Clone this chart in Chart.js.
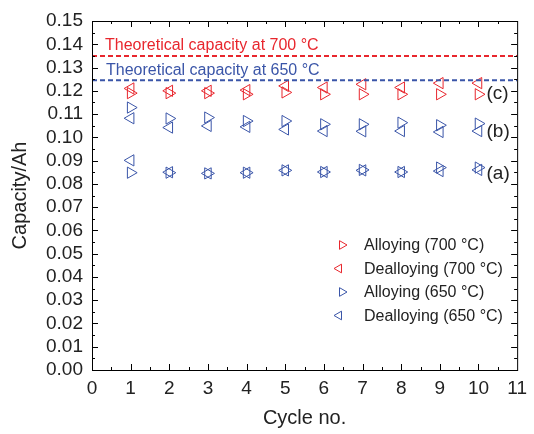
<!DOCTYPE html>
<html>
<head>
<meta charset="utf-8">
<script src="https://cdn.jsdelivr.net/npm/chart.js@4/dist/chart.umd.min.js"></script>
<style>
  html, body { margin: 0; padding: 0; background: #fff; }
  #wrap { width: 534px; height: 434px; }
</style>
</head>
<body>
<div id="wrap"><canvas id="chart" width="534" height="434"></canvas></div>
<script>
const cycles = [1, 2, 3, 4, 5, 6, 7, 8, 9, 10];
const alloying700 = [0.1190, 0.1190, 0.1190, 0.1185, 0.1193, 0.1185, 0.1185, 0.1185, 0.1185, 0.1185];
const dealloying700 = [0.1210, 0.1200, 0.1200, 0.1203, 0.1221, 0.1214, 0.1228, 0.1214, 0.1233, 0.1233];
const alloying650b = [0.1128, 0.1081, 0.1085, 0.1070, 0.1070, 0.1056, 0.1056, 0.1063, 0.1052, 0.1059];
const dealloying650b = [0.1082, 0.1042, 0.1049, 0.1045, 0.1034, 0.1027, 0.1026, 0.1027, 0.1023, 0.1027];
const alloying650a = [0.0848, 0.0848, 0.0845, 0.0848, 0.0858, 0.0851, 0.0860, 0.0851, 0.0870, 0.0870];
const dealloying650a = [0.0901, 0.0850, 0.0845, 0.0848, 0.0858, 0.0851, 0.0858, 0.0851, 0.0855, 0.0860];
const theoretical700 = 0.135;
const theoretical650 = 0.1245;
const xRange = [0, 11];

const RED = '#e8262d';
const BLUE = '#3a55a8';
const FONT = 'Liberation Sans, Arial, Helvetica, sans-serif';

function points(ys) {
  return cycles.map((c, i) => ({ x: c, y: ys[i] }));
}

function markers(label, ys, color, rotation, inLegend) {
  return {
    label, data: points(ys), showLine: false,
    pointStyle: 'triangle', rotation, pointRadius: 6.5,
    borderColor: color, backgroundColor: 'rgba(0,0,0,0)', pointBorderWidth: 1,
    inLegend
  };
}

function refLine(value, color) {
  return {
    label: 'ref', data: xRange.map(x => ({ x, y: value })), showLine: true,
    borderColor: color, borderWidth: 2, borderDash: [5, 3], pointRadius: 0, inLegend: false
  };
}

const datasets = [
  refLine(theoretical700, RED),
  refLine(theoretical650, BLUE),
  markers('Alloying (700 °C)', alloying700, RED, 90, true),
  markers('Dealloying (700 °C)', dealloying700, RED, -90, true),
  markers('Alloying (650 °C)', alloying650b, BLUE, 90, true),
  markers('Dealloying (650 °C)', dealloying650b, BLUE, -90, true),
  markers('Alloying (650 °C)', alloying650a, BLUE, 90, false),
  markers('Dealloying (650 °C)', dealloying650a, BLUE, -90, false)
];

// frame, inward ticks, notes and the legend
const extras = {
  id: 'extras',
  afterDraw(chart) {
    const { ctx, chartArea: a, scales: { x, y } } = chart;
    ctx.save();
    ctx.strokeStyle = '#000';
    ctx.lineWidth = 1;
    ctx.strokeRect(a.left + 0.5, a.top + 0.5, a.right - a.left, a.bottom - a.top);
    ctx.beginPath();
    for (let v = 0.5; v < 11; v += 0.5) {
      const px = Math.round(x.getPixelForValue(v)) + 0.5;
      const len = Number.isInteger(v) ? 6 : 3;
      ctx.moveTo(px, a.bottom); ctx.lineTo(px, a.bottom - len);
      ctx.moveTo(px, a.top); ctx.lineTo(px, a.top + len);
    }
    for (let i = 1; i < 30; i++) {
      const py = Math.round(y.getPixelForValue(i * 0.005)) + 0.5;
      const len = i % 2 === 0 ? 6 : 3;
      ctx.moveTo(a.left, py); ctx.lineTo(a.left + len, py);
      ctx.moveTo(a.right, py); ctx.lineTo(a.right - len, py);
    }
    ctx.stroke();

    ctx.font = '16px ' + FONT;
    ctx.textBaseline = 'middle';
    ctx.textAlign = 'left';
    ctx.fillStyle = RED;
    ctx.fillText('Theoretical capacity at 700 °C', a.left + 13, y.getPixelForValue(theoretical700) - 10);
    ctx.fillStyle = BLUE;
    ctx.fillText('Theoretical capacity at 650 °C', a.left + 14, y.getPixelForValue(theoretical650) - 10);

    ctx.fillStyle = '#222';
    ctx.font = '19px ' + FONT;
    const xl = x.getPixelForValue(10) + 8;
    ctx.fillText('(c)', xl, y.getPixelForValue(0.1189));
    ctx.fillText('(b)', xl, y.getPixelForValue(0.1022));
    ctx.fillText('(a)', xl, y.getPixelForValue(0.0845));

    ctx.font = '16px ' + FONT;
    let row = 0;
    chart.data.datasets.forEach(ds => {
      if (!ds.inLegend) return;
      const ly = a.top + 224 + row * 23.5;
      ctx.strokeStyle = ds.borderColor;
      ctx.fillStyle = 'rgba(0,0,0,0)';
      ctx.lineWidth = 1;
      Chart.helpers.drawPoint(ctx, { pointStyle: 'triangle', rotation: ds.rotation, radius: 5, borderWidth: 1 },
        a.left + (ds.rotation > 0 ? 250 : 247), ly);
      ctx.fillStyle = '#222';
      ctx.fillText(ds.label, a.left + 272, ly + 1);
      row++;
    });
    ctx.restore();
  }
};

new Chart(document.getElementById('chart'), {
  type: 'scatter',
  data: { datasets },
  plugins: [extras],
  options: {
    responsive: false,
    animation: false,
    events: [],
    layout: { padding: { top: 21, right: 8, left: 0, bottom: 0 } },
    plugins: { legend: { display: false }, tooltip: { enabled: false } },
    scales: {
      x: {
        type: 'linear', min: xRange[0], max: xRange[1],
        afterFit(s) { s.height = 64; },
        grid: { display: false, drawTicks: false },
        border: { display: false },
        ticks: { stepSize: 1, padding: 7, color: '#222', font: { family: FONT, size: 19 } },
        title: { display: true, text: 'Cycle no.', color: '#222', padding: { top: 12 }, font: { family: FONT, size: 20 } }
      },
      y: {
        type: 'linear', min: 0, max: 0.15,
        afterFit(s) { s.width = 92; },
        grid: { display: false, drawTicks: false },
        border: { display: false },
        ticks: {
          stepSize: 0.01, autoSkip: false, padding: 9, color: '#222', font: { family: FONT, size: 19 },
          callback: v => v.toFixed(2)
        },
        title: { display: true, text: 'Capacity/Ah', color: '#222', padding: { top: 8, bottom: 0 }, font: { family: FONT, size: 20 } }
      }
    }
  }
});
</script>
</body>
</html>
